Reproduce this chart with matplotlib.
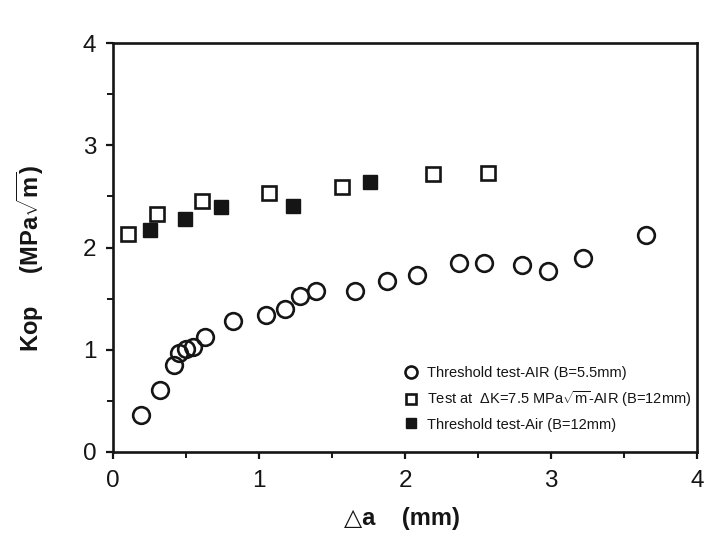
import matplotlib
matplotlib.use('Agg')
import matplotlib.pyplot as plt
from matplotlib.ticker import MultipleLocator

plt.rcParams['font.family'] = ['Liberation Sans', 'DejaVu Sans']
plt.rcParams['mathtext.fontset'] = 'custom'
plt.rcParams['mathtext.rm'] = 'Liberation Sans'
plt.rcParams['mathtext.bf'] = 'Liberation Sans:bold'
plt.rcParams['mathtext.it'] = 'Liberation Sans:italic'

# Threshold test-AIR (B=5.5mm) -- open circles
circ_x = [0.19, 0.32, 0.42, 0.45, 0.50, 0.55, 0.63, 0.82, 1.05, 1.18, 1.28,
          1.39, 1.66, 1.88, 2.08, 2.37, 2.54, 2.80, 2.98, 3.22, 3.65]
circ_y = [0.36, 0.61, 0.85, 0.97, 1.01, 1.03, 1.12, 1.28, 1.34, 1.40, 1.53,
          1.57, 1.57, 1.67, 1.73, 1.85, 1.85, 1.83, 1.77, 1.90, 2.12]

# Test at dK=7.5 MPa sqrt(m) - AIR (B=12mm) -- open squares
osq_x = [0.10, 0.30, 0.61, 1.07, 1.57, 2.19, 2.57]
osq_y = [2.13, 2.33, 2.45, 2.53, 2.59, 2.72, 2.73]

# Threshold test-Air (B=12mm) -- filled squares
fsq_x = [0.25, 0.49, 0.74, 1.23, 1.76]
fsq_y = [2.17, 2.28, 2.40, 2.41, 2.64]

labels = ["Threshold test-AIR (B=5.5mm)",
          "Test at  \u0394K=7.5 MPa$\\sqrt{\\mathrm{m}}$-AIR (B=12mm)",
          "Threshold test-Air (B=12mm)"]

x_ticks = [0, 1, 2, 3, 4]
y_ticks = [0, 1, 2, 3, 4]

ink = '#151515'

fig = plt.figure(figsize=(7.09, 5.35), dpi=100)
ax = fig.add_axes([113/709, 83/535, 584/709, 409/535])

ax.plot(circ_x, circ_y, ls='none', marker='o', ms=12, mfc='none',
        mec=ink, mew=1.9, label=labels[0])
ax.plot(osq_x, osq_y, ls='none', marker='s', ms=9.5, mfc='none',
        mec=ink, mew=1.9, label=labels[1])
ax.plot(fsq_x, fsq_y, ls='none', marker='s', ms=10, mfc=ink,
        mec=ink, mew=1.0, label=labels[2])

ax.set_xlim(0, 4)
ax.set_ylim(0, 4)
ax.set_xticks(x_ticks)
ax.set_yticks(y_ticks)
ax.set_xticklabels([str(t) for t in x_ticks])
ax.set_yticklabels([str(t) for t in y_ticks])
ax.xaxis.set_minor_locator(MultipleLocator(0.5))
ax.yaxis.set_minor_locator(MultipleLocator(0.5))

for s in ax.spines.values():
    s.set_linewidth(1.9)
    s.set_color(ink)

ax.tick_params(axis='both', which='major', direction='out', length=5,
               width=1.6, colors=ink, labelsize=17.5)
ax.tick_params(axis='x', which='major', pad=8)
ax.tick_params(axis='y', which='major', pad=7)
ax.tick_params(axis='both', which='minor', direction='out', length=4,
               width=1.4, colors=ink)

ax.set_ylabel("Kop     (MPa$\\sqrt{\\mathbf{m}}$)", fontsize=17,
              fontweight='bold', color=ink)
ax.yaxis.set_label_coords(-0.115, 0.473)
ax.set_xlabel("\u25B3a    (mm)", fontsize=17, fontweight='bold', color=ink)
ax.xaxis.set_label_coords(0.495, -0.135)

leg = ax.legend(loc='lower left', bbox_to_anchor=(0.498, 0.05),
                frameon=False, fontsize=10.5, markerscale=0.72,
                handlelength=1.0, handletextpad=0.6, labelspacing=0.6,
                borderpad=0, borderaxespad=0, numpoints=1)
for t in leg.get_texts():
    t.set_color(ink)

fig.savefig('out.png', dpi=100)
